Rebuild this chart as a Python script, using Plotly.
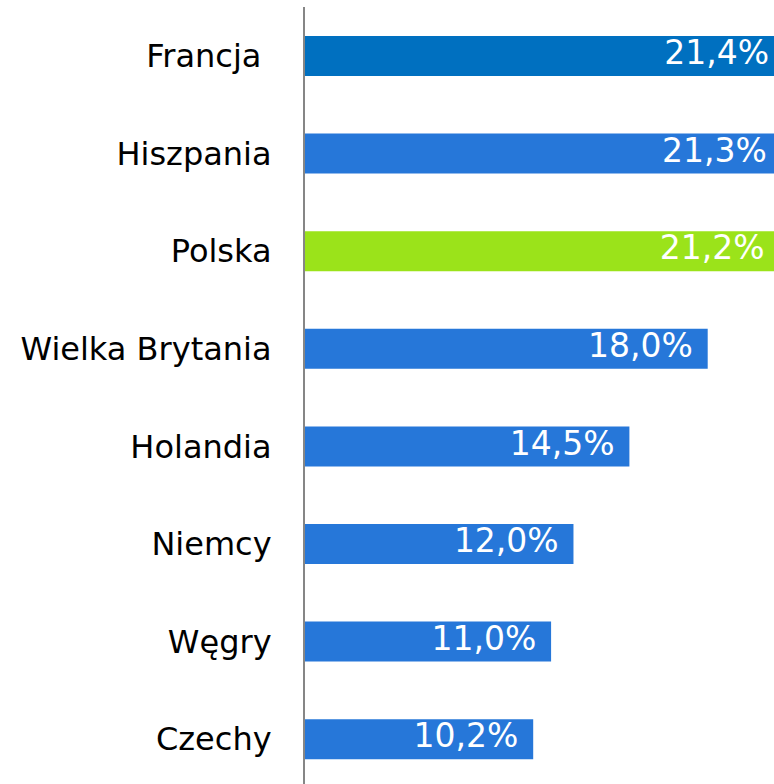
"""Horizontal bar chart: share by country."""

import plotly.graph_objects as go

countries = ["Francja\u00a0", "Hiszpania", "Polska", "Wielka Brytania",
             "Holandia", "Niemcy", "Węgry", "Czechy"]
values = [21.4, 21.3, 21.2, 18.0, 14.5, 12.0, 11.0, 10.2]
labels = ["21,4%", "21,3%", "21,2%", "18,0%", "14,5%", "12,0%", "11,0%", "10,2%"]

BLUE = "#2677D9"
colors = ["#0070C0", BLUE, "#9BE31A", BLUE, BLUE, BLUE, BLUE, BLUE]

FONT = "DejaVu Sans"

fig = go.Figure()
fig.add_trace(
    go.Bar(
        x=values,
        y=countries,
        orientation="h",
        width=0.41,
        marker=dict(color=colors, line=dict(width=0)),
        hoverinfo="skip",
    )
)
# value labels, placed just left of each bar end
fig.add_trace(
    go.Scatter(
        x=values,
        y=countries,
        mode="markers+text",
        text=labels,
        textposition="middle left",
        marker=dict(size=22, opacity=0),
        textfont=dict(family=FONT, size=33, color="white"),
        cliponaxis=False,
        hoverinfo="skip",
    )
)

# the original chart runs a little past the right edge of the window,
# so the figure is wider than the viewport and the overflow is hidden
fig.update_layout(
    width=786,
    height=784,
    margin=dict(l=305, r=0, t=7, b=0),
    plot_bgcolor="white",
    paper_bgcolor="white",
    showlegend=False,
    font=dict(family=FONT, size=32, color="black"),
)
fig.update_xaxes(range=[0, 21.5], visible=False, fixedrange=True)
fig.update_yaxes(
    range=[7.459, -0.502],
    showline=True, linecolor="#868686", linewidth=2,
    ticks="", showgrid=False, ticklabelstandoff=25,
    tickfont=dict(family=FONT, size=32, color="black"),
    fixedrange=True,
)

fig.write_html(
    "out.html",
    config={"displayModeBar": False},
    post_script="document.body.style.margin='0';document.body.style.overflow='hidden';",
)
